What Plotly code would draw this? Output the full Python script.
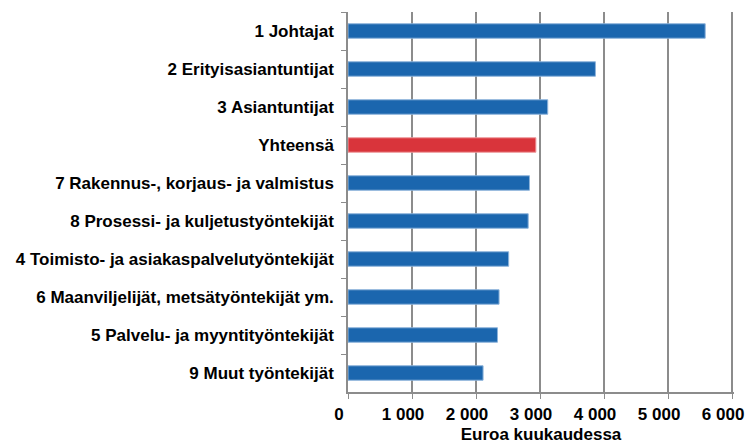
import plotly.graph_objects as go

categories = [
    "1 Johtajat",
    "2 Erityisasiantuntijat",
    "3 Asiantuntijat",
    "Yhteensä",
    "7 Rakennus-, korjaus- ja valmistus",
    "8 Prosessi- ja kuljetustyöntekijät",
    "4 Toimisto- ja asiakaspalvelutyöntekijät",
    "6 Maanviljelijät, metsätyöntekijät ym.",
    "5 Palvelu- ja myyntityöntekijät",
    "9 Muut työntekijät",
]
values = [5580, 3865, 3120, 2935, 2835, 2815, 2510, 2360, 2335, 2110]
bar_colors = ["#1B66AE" if c != "Yhteensä" else "#D9343B" for c in categories]
line_colors = ["#8DB3DA" if c != "Yhteensä" else "#EE9A9D" for c in categories]
x_ticks = [0, 1000, 2000, 3000, 4000, 5000, 6000]
x_tick_text = ["0", "1 000", "2 000", "3 000", "4 000", "5 000", "6 000"]

fig = go.Figure(
    go.Bar(
        x=values,
        y=categories,
        orientation="h",
        width=0.38,
        marker=dict(color=bar_colors, line=dict(color=line_colors, width=1)),
    )
)

font_family = "Liberation Sans, Arial, sans-serif"
fsize = 17

fig.update_layout(
    width=747,
    height=444,
    margin=dict(l=348, r=13, t=12, b=52),
    paper_bgcolor="white",
    plot_bgcolor="white",
    showlegend=False,
    font=dict(family=font_family, size=fsize, color="black"),
)

fig.update_xaxes(
    range=[0, 6030],
    tickvals=x_ticks,
    ticktext=x_tick_text,
    showgrid=True,
    gridcolor="#8C8C8C",
    gridwidth=1.5,
    showline=True,
    linecolor="#8C8C8C",
    linewidth=1.5,
    ticks="outside",
    ticklen=5,
    tickcolor="#8C8C8C",
    ticklabelshift=-9,
    ticklabelstandoff=1,
    ticklabeloverflow="allow",
    tickfont=dict(family=font_family, size=fsize, color="black", weight="bold"),
    title=dict(text="Euroa kuukaudessa",
               font=dict(family=font_family, size=fsize, color="black", weight="bold"),
               standoff=10),
    zeroline=False,
    automargin=False,
)

fig.update_yaxes(
    categoryorder="array",
    categoryarray=categories,
    autorange="reversed",
    showgrid=False,
    showline=True,
    linecolor="#8C8C8C",
    linewidth=1.5,
    ticks="outside",
    ticklen=5,
    tickcolor="#8C8C8C",
    tickson="boundaries",
    ticklabelstandoff=9,
    tickfont=dict(family=font_family, size=fsize, color="black", weight="bold"),
    automargin=False,
)

fig.write_html(
    "out.html",
    config={"displayModeBar": False},
    post_script="document.body.style.margin='0';document.body.style.overflow='hidden';",
)
